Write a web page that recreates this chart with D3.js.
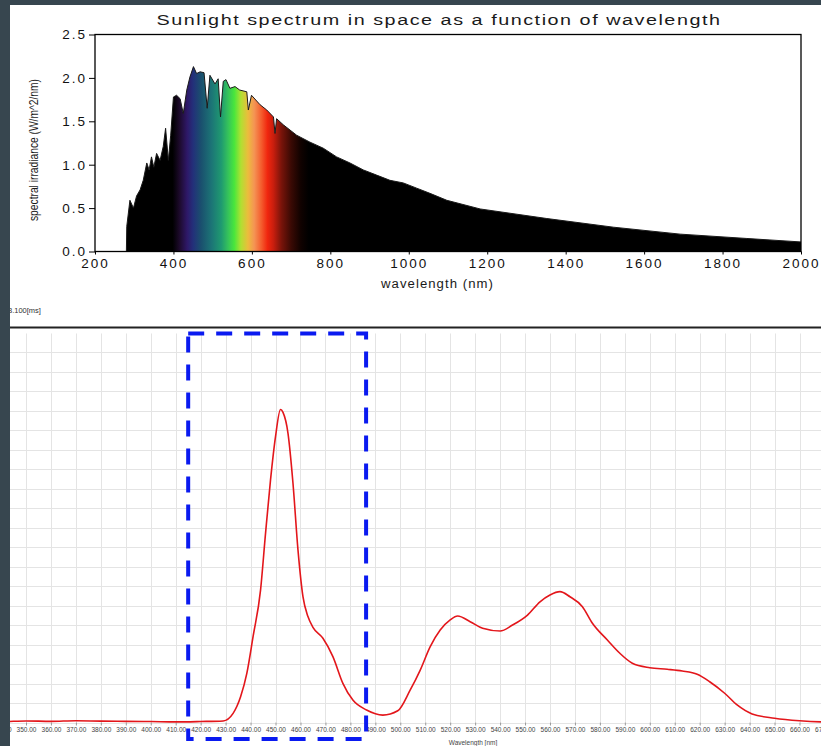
<!DOCTYPE html>
<html>
<head>
<meta charset="utf-8">
<script src="https://cdn.jsdelivr.net/npm/d3@7"></script>
<style>
  body { margin: 0; background: #fff; }
  svg { display: block; font-family: "Liberation Sans", Arial, sans-serif; }
</style>
</head>
<body>
<div id="canvas"></div>
<script>
// top chart: solar irradiance (W/m^2/nm) against wavelength (nm)
const sunWl = [280, 281, 289, 298, 306, 315, 323, 332, 338, 344, 350, 357, 366, 374, 380, 387, 393,
  400, 408, 417, 425, 434, 442, 451, 459, 468, 478, 486, 493, 506, 514, 520, 527, 534, 544, 557,
  569, 587, 591, 599, 621, 638, 655, 659, 663, 680, 714, 748, 782, 816, 850, 884, 918, 952, 986,
  1020, 1054, 1097, 1182, 1352, 1522, 1692, 1862, 2000];
const sunIrr = [0, 0.29, 0.59, 0.50, 0.64, 0.71, 0.82, 1.02, 0.94, 1.09, 0.97, 1.13, 1.05, 1.21, 1.42, 1.05, 1.34,
  1.78, 1.80, 1.76, 1.59, 1.86, 2.01, 2.13, 2.05, 2.07, 2.06, 1.65, 2.03, 1.93, 1.99, 1.55, 1.96, 1.98, 1.88, 1.90,
  1.86, 1.84, 1.63, 1.80, 1.69, 1.63, 1.55, 1.36, 1.53, 1.46, 1.34, 1.26, 1.19, 1.09, 1.02, 0.94, 0.88, 0.82, 0.79,
  0.73, 0.67, 0.59, 0.49, 0.38, 0.28, 0.20, 0.15, 0.11];
const sunXTicks = [200, 400, 600, 800, 1000, 1200, 1400, 1600, 1800, 2000];
const sunYTicks = [0, 0.5, 1.0, 1.5, 2.0, 2.5];

// visible colour band under the curve
const bandWl = [398, 415, 435, 450, 470, 498, 522, 540, 555, 572, 590, 606, 625, 640, 655, 675, 700, 725, 745];
const bandColor = ["#000000", "#1c0a2a", "#2e1868", "#23307a", "#1a4f6e", "#1c7676", "#1f9a70", "#36c45a",
  "#48e63c", "#b0e032", "#ecbc3c", "#f49454", "#f45a2c", "#f0260e", "#c81e0e", "#7a140a", "#3a0a04", "#100200", "#000000"];

// bottom chart: measured LED spectrum (grid units) against wavelength (nm)
const ledWl = [330, 340, 350, 360, 370, 380, 390, 400, 410, 420, 429, 433, 436, 438.5, 441, 444, 446, 448, 450,
  452, 453, 455, 457, 459, 461, 463, 465, 469, 473, 477, 481, 486.5, 493, 499, 504, 508, 512, 516, 520, 523,
  528, 533, 540, 545, 551, 556, 560, 564, 568, 573, 577, 583, 588, 593, 600, 607, 613, 619, 624, 630, 635,
  641, 650, 660, 670, 680];
const ledVal = [0.06, 0.05, 0.08, 0.06, 0.09, 0.07, 0.06, 0.05, 0.03, 0.05, 0.08, 0.47, 1.32, 2.52, 4.40, 6.79, 9.70, 12.44, 14.66,
  16.05, 15.9, 14.83, 12.27, 8.85, 6.45, 5.43, 4.88, 4.32, 3.38, 2.01, 1.15, 0.64, 0.38, 0.60, 1.67, 2.69, 3.89, 4.74, 5.26, 5.46,
  5.17, 4.83, 4.69, 5.0, 5.51, 6.19, 6.54, 6.71, 6.45, 5.94, 5.09, 4.23, 3.55, 3.04, 2.81, 2.73, 2.64, 2.47, 2.09, 1.50, 0.90,
  0.44, 0.22, 0.09, 0.03, 0.02];
const ledXTicks = [340, 350, 360, 370, 380, 390, 400, 410, 420, 430, 440, 450, 460, 470, 480, 490, 500, 510,
  520, 530, 540, 550, 560, 570, 580, 590, 600, 610, 620, 630, 640, 650, 660, 670];
const ledYGrid = [0, 1, 2, 3, 4, 5, 6, 7, 8, 9, 10, 11, 12, 13, 14, 15, 16, 17, 18, 19];
const boxWl = [415, 486.3];   // dashed highlight box
const boxVal = [-0.85, 19.95];

const width = 821;
const height = 746;

const svg = d3.select("#canvas").append("svg")
  .attr("width", width)
  .attr("height", height);

svg.append("rect").attr("width", width).attr("height", height).attr("fill", "#fff");

// ---------- top chart ----------
const x = d3.scaleLinear().domain([200, 2000]).range([95, 801]);
const y = d3.scaleLinear().domain([0, 2.5]).range([251.5, 34.5]);

const sun = sunWl.map((w, i) => ({ w: w, v: sunIrr[i] }));

const grad = svg.append("defs").append("linearGradient")
  .attr("id", "band")
  .attr("gradientUnits", "userSpaceOnUse")
  .attr("x1", x(200)).attr("x2", x(2000))
  .attr("y1", 0).attr("y2", 0);
bandWl.forEach((w, i) => {
  grad.append("stop")
    .attr("offset", (x(w) - x(200)) / (x(2000) - x(200)))
    .attr("stop-color", bandColor[i]);
});

svg.append("path")
  .datum(sun)
  .attr("fill", "url(#band)")
  .attr("d", d3.area().x(d => x(d.w)).y0(y(0)).y1(d => y(d.v)));

svg.append("path")
  .datum(sun)
  .attr("fill", "none")
  .attr("stroke", "#1a1a1a")
  .attr("stroke-width", 1)
  .attr("d", d3.line().x(d => x(d.w)).y(d => y(d.v)));

svg.append("rect")
  .attr("x", x(200)).attr("y", y(2.5))
  .attr("width", x(2000) - x(200)).attr("height", y(0) - y(2.5))
  .attr("fill", "none").attr("stroke", "#000").attr("stroke-width", 1.3);

const xAxis = svg.append("g")
  .attr("transform", `translate(0,${y(0)})`)
  .call(d3.axisBottom(x).tickValues(sunXTicks).tickSize(3).tickPadding(4).tickFormat(d3.format("d")));
xAxis.select(".domain").remove();
xAxis.selectAll("text").attr("font-size", 13.5).attr("letter-spacing", 2).attr("fill", "#111")
  .attr("font-family", "Liberation Sans, Arial, sans-serif");

const yAxis = svg.append("g")
  .attr("transform", `translate(${x(200)},0)`)
  .call(d3.axisLeft(y).tickValues(sunYTicks).tickSize(6).tickPadding(2).tickFormat(d3.format(".1f")));
yAxis.select(".domain").remove();
yAxis.selectAll("text").attr("font-size", 13.5).attr("letter-spacing", 2).attr("fill", "#111")
  .attr("font-family", "Liberation Sans, Arial, sans-serif");

svg.append("text")
  .attr("x", 439).attr("y", 25)
  .attr("text-anchor", "middle")
  .attr("font-size", 15.5)
  .attr("letter-spacing", 1.2)
  .attr("fill", "#1a1a1a")
  .attr("textLength", 565).attr("lengthAdjust", "spacingAndGlyphs")
  .text("Sunlight spectrum in space as a function of wavelength");

svg.append("text")
  .attr("x", 437.5).attr("y", 288)
  .attr("text-anchor", "middle")
  .attr("font-size", 12.5)
  .attr("letter-spacing", 1)
  .attr("fill", "#1a1a1a")
  .attr("textLength", 113).attr("lengthAdjust", "spacingAndGlyphs")
  .text("wavelength (nm)");

svg.append("text")
  .attr("transform", "translate(38,150) rotate(-90)")
  .attr("text-anchor", "middle")
  .attr("font-family", "Liberation Sans Narrow, Arial Narrow, sans-serif")
  .attr("font-size", 13)
  .attr("fill", "#1a1a1a")
  .attr("textLength", 142).attr("lengthAdjust", "spacingAndGlyphs")
  .text("spectral irradiance (W/m^2/nm)");

// ---------- bottom chart ----------
const xb = d3.scaleLinear().domain([350, 660]).range([26, 799.5]);
const yb = d3.scaleLinear().domain([0, 20]).range([722.5, 332.5]);

svg.append("text")
  .attr("x", 8).attr("y", 313)
  .attr("font-size", 7.5)
  .attr("fill", "#333")
  .text("3.100[ms]");

svg.append("line")
  .attr("x1", 10).attr("x2", width)
  .attr("y1", 327.5).attr("y2", 327.5)
  .attr("stroke", "#222").attr("stroke-width", 2);

const grid = svg.append("g").attr("stroke", "#e4e4e4").attr("stroke-width", 1);
grid.selectAll("line.v").data(ledXTicks).enter().append("line")
  .attr("class", "v")
  .attr("x1", d => Math.round(xb(d)) + 0.5).attr("x2", d => Math.round(xb(d)) + 0.5)
  .attr("y1", yb(19.95)).attr("y2", yb(0));
grid.selectAll("line.h").data(ledYGrid).enter().append("line")
  .attr("class", "h")
  .attr("x1", 10).attr("x2", width)
  .attr("y1", d => Math.round(yb(d)) + 0.5).attr("y2", d => Math.round(yb(d)) + 0.5);

const bAxis = svg.append("g")
  .attr("transform", `translate(0,${yb(0)})`)
  .call(d3.axisBottom(xb).tickValues(ledXTicks).tickSize(3).tickPadding(2).tickFormat(d3.format(".2f")));
bAxis.select(".domain").remove();
bAxis.selectAll(".tick line").attr("stroke", "#999");
bAxis.selectAll("text").attr("font-size", 6.5).attr("fill", "#444")
  .attr("font-family", "Liberation Sans, Arial, sans-serif");

svg.append("text")
  .attr("x", 473).attr("y", 744.5)
  .attr("text-anchor", "middle")
  .attr("font-size", 6.5)
  .attr("fill", "#444")
  .text("Wavelength [nm]");

const led = ledWl.map((w, i) => ({ w: w, v: ledVal[i] }));
svg.append("path")
  .datum(led)
  .attr("fill", "none")
  .attr("stroke", "#e3161b")
  .attr("stroke-width", 1.6)
  .attr("d", d3.line().x(d => xb(d.w)).y(d => yb(d.v)).curve(d3.curveMonotoneX));

svg.append("rect")
  .attr("x", xb(boxWl[0])).attr("y", yb(boxVal[1]))
  .attr("width", xb(boxWl[1]) - xb(boxWl[0]))
  .attr("height", yb(boxVal[0]) - yb(boxVal[1]))
  .attr("fill", "none")
  .attr("stroke", "#0a1af0")
  .attr("stroke-width", 4)
  .attr("stroke-dasharray", "16,12");

// dark frame of the screenshot
svg.append("rect").attr("x", 0).attr("y", 0).attr("width", width).attr("height", 5).attr("fill", "#37464f");
svg.append("rect").attr("x", 0).attr("y", 0).attr("width", 10).attr("height", height).attr("fill", "#37464f");
</script>
</body>
</html>
